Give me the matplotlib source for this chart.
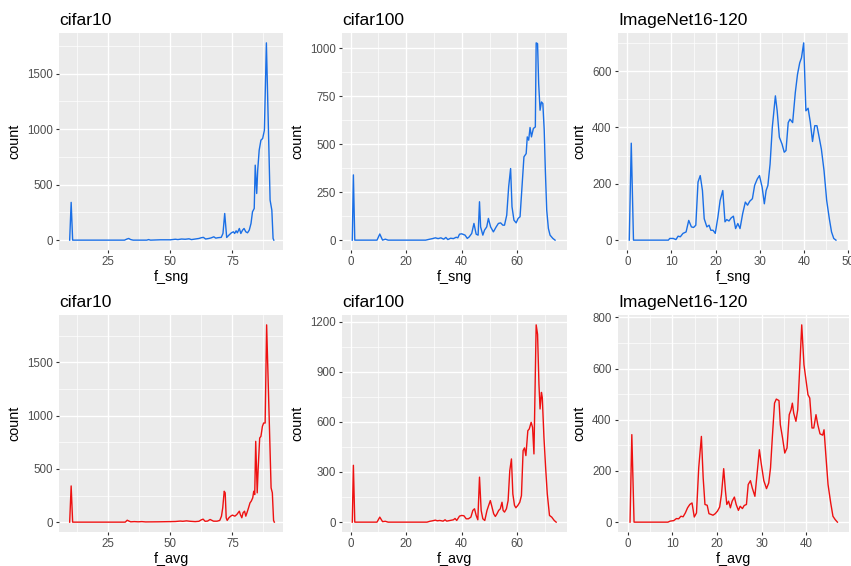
import matplotlib
matplotlib.use("Agg")
import matplotlib.pyplot as plt
from matplotlib.ticker import AutoMinorLocator

plt.rcParams["font.family"] = ["Liberation Sans", "DejaVu Sans"]

# cifar10, f_sng
c10_sng_x = [9.4, 10.0, 10.6, 31.5, 32.5, 33.2, 34.0, 35.0, 40.5, 41.2, 42.0, 46.0, 50.0,
             52.0, 53.0, 54.5, 56.0, 57.5, 58.5, 60.0, 61.5, 62.5, 63.3, 64.2, 65.5, 66.4,
             67.5, 68.3, 69.2, 70.5, 71.2, 71.9, 72.7, 73.6, 74.6, 75.4, 75.9, 76.5, 77.0,
             77.8, 78.4, 79.1, 79.7, 80.4, 81.1, 81.8, 82.5, 83.1, 83.8, 84.2, 84.8, 85.2,
             85.8, 86.5, 87.2, 87.9, 88.7, 90.2, 90.9, 91.4, 91.7]
c10_sng_n = [0, 340, 0, 0, 10, 15, 5, 0, 0, 5, 0, 3, 3,
             8, 5, 10, 8, 12, 5, 10, 15, 22, 25, 10, 15, 20,
             30, 18, 22, 25, 60, 240, 24, 45, 66, 75, 60, 84, 66,
             105, 60, 90, 105, 75, 66, 90, 150, 255, 285, 675, 420, 630,
             810, 900, 915, 990, 1776, 360, 270, 15, 0]

# cifar100, f_sng
c100_sng_x = [0.6, 1.0, 1.5, 9.5, 10.5, 11.5, 12.5, 13.5, 27.0, 28.5, 29.5, 30.5, 31.5,
              32.5, 33.5, 34.3, 35.0, 36.0, 37.0, 38.0, 38.6, 39.2, 40.0, 41.2, 42.0, 42.7,
              43.6, 44.4, 45.2, 45.9, 46.4, 46.8, 47.6, 48.2, 49.0, 49.6, 50.4, 51.4, 52.4,
              53.2, 54.0, 54.8, 55.4, 56.2, 56.9, 57.6, 58.1, 58.8, 59.6, 60.3, 61.0, 61.7,
              62.4, 63.2, 63.6, 64.1, 64.6, 65.1, 65.8, 66.5, 66.8, 67.3, 67.7, 68.2, 68.7,
              69.2, 69.7, 70.1, 70.6, 71.2, 71.8, 72.8, 73.6]
c100_sng_n = [0, 340, 0, 0, 32, 0, 5, 0, 0, 5, 8, 12, 8,
              12, 5, 14, 3, 10, 8, 15, 12, 31, 33, 26, 9, 17,
              35, 87, 31, 26, 200, 69, 26, 52, 69, 113, 69, 43, 69,
              87, 90, 78, 78, 130, 278, 373, 174, 104, 90, 113, 122, 278,
              434, 451, 538, 521, 587, 538, 582, 590, 1028, 1024, 816, 677, 720,
              712, 573, 365, 156, 61, 26, 9, 0]

# ImageNet16-120, f_sng
img_sng_x = [0.45, 0.9, 1.4, 9.3, 9.6, 10.4, 11.0, 11.5, 12.0, 12.6, 13.3, 13.9, 14.5,
             15.0, 15.5, 16.0, 16.5, 17.0, 17.4, 18.0, 18.5, 18.9, 19.4, 19.9, 20.5, 21.0,
             21.6, 22.1, 22.5, 23.0, 23.5, 24.0, 24.5, 25.0, 25.5, 26.1, 26.7, 27.2, 27.7,
             28.3, 28.8, 29.4, 29.9, 30.5, 31.0, 31.4, 31.8, 32.3, 32.8, 33.5, 33.9, 34.4,
             35.0, 35.5, 35.9, 36.4, 36.8, 37.4, 38.0, 38.5, 39.0, 39.4, 39.9, 40.4, 40.9,
             41.4, 41.9, 42.4, 42.9, 43.4, 43.9, 44.5, 45.1, 45.7, 46.2, 46.7, 47.2]
img_sng_n = [0, 344, 0, 0, 6, 6, 2, 14, 12, 24, 29, 70, 47,
             45, 53, 206, 229, 176, 76, 47, 53, 35, 35, 24, 82, 141,
             176, 65, 73, 68, 79, 85, 41, 59, 41, 94, 135, 124, 138,
             147, 194, 217, 229, 188, 129, 176, 194, 270, 400, 512, 459, 365,
             341, 312, 318, 417, 429, 417, 523, 588, 629, 647, 700, 459, 468,
             418, 350, 406, 406, 365, 323, 247, 141, 76, 29, 6, 0]

# cifar10, f_avg
c10_avg_x = [9.4, 10.0, 10.6, 31.8, 32.6, 33.3, 34.0, 35.5, 37.0, 38.5, 40.0, 45.0, 50.0,
             52.0, 54.0, 55.0, 56.5, 58.0, 60.0, 61.5, 62.5, 63.2, 64.0, 65.0, 66.0, 67.4,
             68.8, 69.9, 70.6, 71.1, 71.7, 72.1, 72.5, 72.9, 73.6, 74.3, 75.0, 76.0, 76.8,
             77.8, 78.2, 78.8, 79.3, 79.9, 80.4, 81.0, 81.5, 82.1, 82.6, 83.2, 83.6, 84.0,
             84.4, 85.0, 85.4, 86.0, 86.5, 87.1, 87.6, 88.2, 88.8, 90.6, 91.1, 91.6, 91.9]
c10_avg_n = [0, 340, 0, 0, 18, 10, 3, 5, 3, 5, 2, 3, 5,
             6, 10, 8, 12, 8, 5, 8, 22, 28, 8, 10, 25, 9,
             9, 16, 56, 134, 290, 275, 41, 16, 41, 56, 66, 56, 72,
             103, 72, 41, 88, 103, 56, 97, 134, 181, 197, 228, 290, 259,
             759, 275, 509, 790, 806, 900, 931, 931, 1853, 322, 275, 16, 0]

# cifar100, f_avg
c100_avg_x = [0.6, 1.0, 1.5, 9.5, 10.5, 11.5, 12.5, 13.5, 27.5, 28.5, 29.5, 30.5, 31.2,
              32.1, 33.3, 34.0, 34.6, 35.8, 37.0, 37.6, 38.2, 39.2, 40.0, 40.8, 41.6, 42.4,
              43.3, 44.0, 44.6, 45.2, 45.8, 46.4, 47.0, 47.6, 48.3, 49.1, 49.7, 50.3, 50.9,
              51.5, 52.1, 52.7, 53.3, 53.9, 54.5, 54.9, 55.4, 56.1, 56.7, 57.3, 57.9, 58.4,
              59.0, 59.5, 60.2, 60.9, 61.5, 62.1, 62.6, 63.1, 63.8, 64.3, 65.0, 65.5, 66.0,
              66.8, 67.3, 67.8, 68.2, 68.7, 69.0, 69.6, 70.2, 70.8, 71.6, 72.4, 73.3, 74.0]
c100_avg_n = [0, 340, 0, 0, 30, 3, 5, 0, 0, 5, 8, 12, 8,
              10, 6, 14, 6, 10, 14, 22, 10, 36, 40, 38, 20, 20,
              30, 70, 80, 40, 14, 269, 70, 20, 10, 70, 100, 129, 90,
              50, 34, 50, 70, 80, 119, 70, 60, 80, 129, 308, 378, 169,
              100, 86, 100, 119, 159, 428, 444, 398, 547, 557, 597, 567, 408,
              1180, 1124, 826, 677, 776, 746, 507, 328, 169, 40, 30, 10, 0]

# ImageNet16-120, f_avg
img_avg_x = [0.5, 0.9, 1.4, 9.0, 9.5, 10.3, 10.9, 11.4, 11.9, 12.4, 12.9, 13.4, 13.9,
             14.4, 14.9, 15.4, 15.9, 16.5, 16.9, 17.3, 17.8, 18.2, 18.7, 19.1, 19.6, 20.1,
             20.6, 21.0, 21.5, 21.9, 22.2, 22.6, 23.0, 23.4, 23.9, 24.3, 24.8, 25.2, 25.7,
             26.1, 26.6, 27.0, 27.5, 27.9, 28.5, 29.0, 29.5, 29.9, 30.5, 31.1, 31.6, 32.0,
             32.4, 32.9, 33.3, 33.9, 34.2, 34.7, 35.2, 35.7, 36.2, 36.6, 36.9, 37.2, 37.7,
             38.1, 38.6, 39.0, 39.5, 39.9, 40.4, 40.8, 41.3, 41.7, 42.2, 42.6, 43.1, 43.7,
             44.0, 44.4, 44.9, 45.5, 46.0, 46.5, 47.0]
img_avg_n = [0, 342, 0, 0, 4, 6, 14, 13, 23, 21, 36, 56, 69,
             75, 20, 36, 212, 335, 173, 69, 66, 33, 30, 27, 33, 43,
             59, 108, 209, 121, 69, 82, 56, 82, 98, 69, 46, 62, 53,
             65, 69, 147, 162, 134, 101, 192, 283, 231, 162, 131, 153, 212,
             329, 465, 481, 475, 381, 329, 270, 290, 420, 439, 465, 426, 394,
             439, 621, 771, 615, 563, 498, 485, 368, 368, 420, 381, 345, 340,
             361, 264, 147, 75, 23, 10, 0]

titles = ["cifar10", "cifar100", "ImageNet16-120"]
BLUE = "#1a6fe6"
RED = "#ee1111"


def style(ax, title, xlabel, xticks, yticks, xlim):
    ax.set_facecolor("#EBEBEB")
    for s in ax.spines.values():
        s.set_visible(False)
    ax.set_xlim(*xlim)
    ax.margins(y=0.05)
    ax.set_xticks(xticks)
    ax.set_yticks(yticks)
    ax.xaxis.set_minor_locator(AutoMinorLocator(2))
    ax.yaxis.set_minor_locator(AutoMinorLocator(2))
    ax.grid(which="major", color="white", lw=1.0)
    ax.grid(which="minor", color="white", lw=0.5)
    ax.set_axisbelow(True)
    ax.tick_params(which="major", length=2.5, width=0.8, color="#333333",
                   labelsize=8.3, labelcolor="#4D4D4D", pad=2)
    ax.tick_params(which="minor", length=0)
    ax.set_xlabel(xlabel, fontsize=10.4, labelpad=1.5)
    ax.set_ylabel("count", fontsize=10.4, labelpad=4)
    ax.set_title(title, loc="left", fontsize=12.5, pad=6)


fig = plt.figure(figsize=(8.51, 5.66), dpi=100)
W, H = 851, 566
cols = [(59, 283), (342, 567), (618, 849)]
rows = [(33, 250), (315, 532)]

panels = [
    (0, 0, c10_sng_x, c10_sng_n, BLUE, "f_sng", [25, 50, 75], [0, 500, 1000, 1500], (5.1, 95.4)),
    (0, 1, c100_sng_x, c100_sng_n, BLUE, "f_sng", [0, 20, 40, 60], [0, 250, 500, 750, 1000], (-3.1, 77.9)),
    (0, 2, img_sng_x, img_sng_n, BLUE, "f_sng", [0, 10, 20, 30, 40, 50], [0, 200, 400, 600], (-2.1, 50.15)),
    (1, 0, c10_avg_x, c10_avg_n, RED, "f_avg", [25, 50, 75], [0, 500, 1000, 1500], (5.1, 95.4)),
    (1, 1, c100_avg_x, c100_avg_n, RED, "f_avg", [0, 20, 40, 60], [0, 300, 600, 900, 1200], (-3.1, 77.9)),
    (1, 2, img_avg_x, img_avg_n, RED, "f_avg", [0, 10, 20, 30, 40], [0, 200, 400, 600, 800], (-2.2, 49.6)),
]

for r, c, xs, ns, col, xlab, xt, yt, xl in panels:
    x0, x1 = cols[c]
    y0, y1 = rows[r]
    ax = fig.add_axes([x0 / W, 1 - y1 / H, (x1 - x0) / W, (y1 - y0) / H])
    ax.plot(xs, ns, color=col, lw=1.0)
    style(ax, titles[c], xlab, xt, yt, xl)

fig.savefig("out.png", dpi=100, facecolor="white")
